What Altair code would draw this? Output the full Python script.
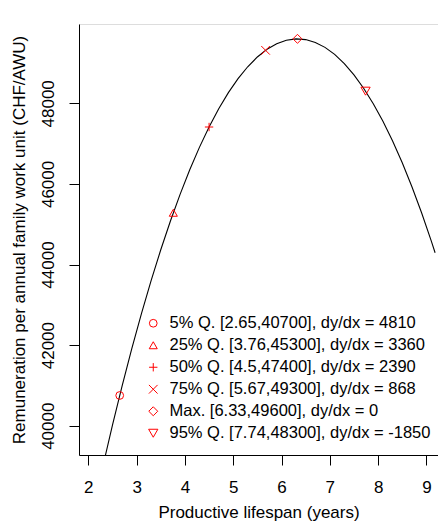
import altair as alt
import pandas as pd

# Fitted curve
curve_x = [2.3, 2.5, 2.7, 2.9, 3.1, 3.3, 3.5, 3.7, 3.9, 4.1, 4.3, 4.5, 4.7, 4.9,
           5.1, 5.3, 5.5, 5.7, 5.9, 6.1, 6.3, 6.5, 6.7, 6.9, 7.1, 7.3, 7.5, 7.7,
           7.9, 8.1, 8.3, 8.5, 8.7, 8.9, 9.1, 9.18]
curve_y = [38987, 40014, 40989, 41912, 42782, 43600, 44366, 45080, 45741, 46350,
           46907, 47412, 47864, 48264, 48611, 48907, 49150, 49341, 49479, 49565,
           49599, 49581, 49511, 49388, 49213, 48985, 48705, 48373, 47989, 47553,
           47064, 46523, 45929, 45284, 44586, 44292]

# Marked points
q_x = [2.65, 3.76, 4.5, 5.67, 6.33, 7.74]
q_y = [40750, 45284, 47412, 49315, 49600, 48301]
q_labels = [
    "5% Q. [2.65,40700], dy/dx = 4810",
    "25% Q. [3.76,45300], dy/dx = 3360",
    "50% Q. [4.5,47400], dy/dx = 2390",
    "75% Q. [5.67,49300], dy/dx = 868",
    "Max. [6.33,49600], dy/dx = 0",
    "95% Q. [7.74,48300], dy/dx = -1850",
]
q_shapes = ["circle", "triangle-up", "M-1,0L1,0M0,-1L0,1",
            "M-1,-1L1,1M-1,1L1,-1", "diamond", "triangle-down"]
q_sizes = [60, 85, 130, 80, 115, 95]

x_ticks = [2, 3, 4, 5, 6, 7, 8, 9]
y_ticks = [40000, 42000, 44000, 46000, 48000]

curve_df = pd.DataFrame({"x": curve_x, "y": curve_y})
pts_df = pd.DataFrame({"x": q_x, "y": q_y, "lab": q_labels})

FONT = "Liberation Sans"
FS = 17

xscale = alt.Scale(domain=[1.807, 9.24], nice=False, zero=False)
yscale = alt.Scale(domain=[39273, 49968], nice=False, zero=False)

xaxis = alt.Axis(values=x_ticks, title="Productive lifespan (years)", grid=False,
                 tickSize=10, labelPadding=14, titlePadding=9, format="d",
                 labelFontSize=FS, titleFontSize=FS, labelFont=FONT, titleFont=FONT,
                 titleFontWeight="normal", labelColor="black", titleColor="black",
                 domainColor="black", tickColor="black", labelFlush=False)
yaxis = alt.Axis(values=y_ticks, title="Remuneration per annual family work unit (CHF/AWU)",
                 grid=False, tickSize=10, labelPadding=12, titlePadding=11, format="d",
                 labelAngle=270, labelAlign="center", labelBaseline="bottom",
                 labelFontSize=FS, titleFontSize=FS, labelFont=FONT, titleFont=FONT,
                 titleFontWeight="normal", labelColor="black", titleColor="black",
                 domainColor="black", tickColor="black", labelFlush=False)

line = alt.Chart(curve_df).mark_line(color="black", strokeWidth=1.1, clip=True).encode(
    x=alt.X("x:Q", scale=xscale, axis=xaxis),
    y=alt.Y("y:Q", scale=yscale, axis=yaxis),
)

legend = alt.Legend(title=None, orient="none", legendX=66, legendY=291,
                    labelFontSize=16.5, labelFont=FONT, labelColor="black",
                    rowPadding=5, labelOffset=8, padding=0, labelLimit=0,
                    symbolStrokeWidth=1)

pts = alt.Chart(pts_df).mark_point(filled=False, strokeWidth=1, opacity=1).encode(
    x=alt.X("x:Q", scale=xscale),
    y=alt.Y("y:Q", scale=yscale),
    shape=alt.Shape("lab:N", scale=alt.Scale(domain=q_labels, range=q_shapes),
                    legend=legend, sort=None),
    color=alt.Color("lab:N", scale=alt.Scale(domain=q_labels, range=["#ff0000"] * 6),
                    legend=legend, sort=None),
    size=alt.Size("lab:N", scale=alt.Scale(domain=q_labels, range=q_sizes),
                  legend=legend, sort=None),
)

chart = alt.layer(line, pts).properties(
    width=359, height=431,
    autosize=alt.AutoSizeParams(type="none"),
    padding={"left": 71, "top": 16, "right": 0, "bottom": 68},
).configure_view(stroke=None).configure(font=FONT)

chart.save("out.html", embed_options={"renderer": "svg", "actions": False})
